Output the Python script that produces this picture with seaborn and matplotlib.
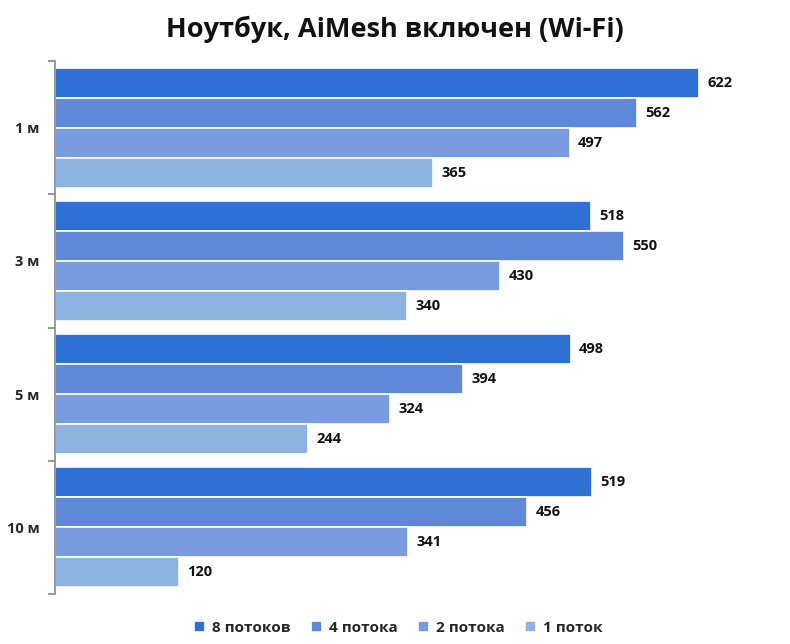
import matplotlib
matplotlib.use("Agg")
import matplotlib.pyplot as plt
import pandas as pd
import seaborn as sns
from matplotlib.ticker import FixedLocator

# Данные с графика
distances = ['1 м', '3 м', '5 м', '10 м']
series = ['8 потоков', '4 потока', '2 потока', '1 поток']
vals_8 = [622, 518, 498, 519]
vals_4 = [562, 550, 394, 456]
vals_2 = [497, 430, 324, 341]
vals_1 = [365, 340, 244, 120]
colors = ['#2F70D5', '#5F88D8', '#789CDF', '#8DB3E0']

rows = []
for s, vals in zip(series, [vals_8, vals_4, vals_2, vals_1]):
    for d, v in zip(distances, vals):
        rows.append({'dist': d, 'series': s, 'value': v})
df = pd.DataFrame(rows)

sns.set_style('white')
plt.rcParams['font.family'] = ['Open Sans', 'DejaVu Sans']

fig = plt.figure(figsize=(7.9, 6.44), dpi=100)
ax = fig.add_axes([55 / 790, 1 - 594 / 644, 735 / 790, 533 / 644])

sns.barplot(data=df, y='dist', x='value', hue='series', order=distances,
            hue_order=series, palette=colors, orient='h', width=0.9,
            edgecolor='white', linewidth=1.2, saturation=1, ax=ax)

for cont in ax.containers:
    ax.bar_label(cont, padding=6, fontsize=10.5, fontweight='bold', color='#111111')

ax.set_xlim(0, 710)
ax.set_ylim(len(distances) - 0.5, -0.5)
ax.set_xlabel('')
ax.set_ylabel('')
ax.set_xticks([])
ax.tick_params(axis='y', which='major', length=0, pad=11)
ax.set_yticklabels(distances, fontsize=10.5, fontweight='bold')
ax.yaxis.set_minor_locator(FixedLocator([i - 0.5 for i in range(len(distances) + 1)]))
ax.tick_params(axis='y', which='minor', length=5, color='#888888', width=1.2, left=True)
for sp in ['top', 'right', 'bottom']:
    ax.spines[sp].set_visible(False)
ax.spines['left'].set_color('#888888')
ax.spines['left'].set_linewidth(1.2)

ax.legend(loc='upper center', bbox_to_anchor=(0.467, -0.025), ncol=4,
          frameon=False, handlelength=0.75, handleheight=0.75, handletextpad=0.45,
          columnspacing=1.3, prop={'weight': 'bold', 'size': 11})

fig.suptitle('Ноутбук, AiMesh включен (Wi-Fi)', y=0.975, fontsize=19.5,
             fontweight='bold', color='#111111')

fig.savefig('out.png', dpi=100)
